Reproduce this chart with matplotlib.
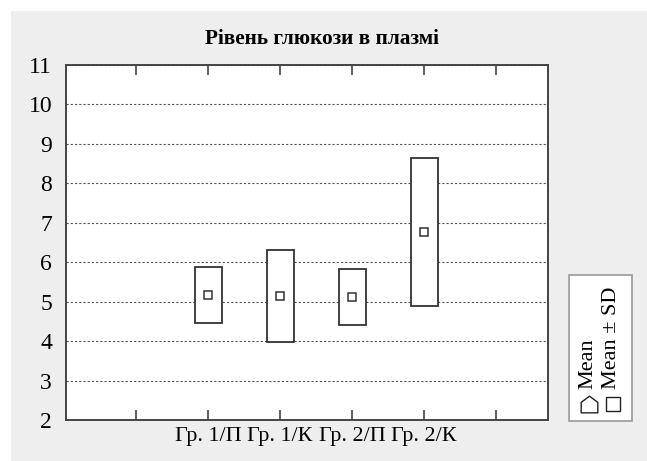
import matplotlib
matplotlib.use('Agg')
import numpy as np
from matplotlib import pyplot as plt
from matplotlib.patches import Rectangle
from matplotlib.path import Path

groups = ['Гр. 1/П', 'Гр. 1/К', 'Гр. 2/П', 'Гр. 2/К']
means = [5.18, 5.14, 5.12, 6.77]
sds = [0.71, 1.16, 0.70, 1.88]
y_ticks = [2, 3, 4, 5, 6, 7, 8, 9, 10, 11]
title = 'Рівень глюкози в плазмі'

plt.rcParams['font.family'] = ['Liberation Serif', 'DejaVu Serif']

W, H = 647, 461
fig = plt.figure(figsize=(W / 100, H / 100), dpi=100)
fig.patch.set_facecolor('white')
fig.patches.append(Rectangle((11 / W, 0), 1 - 11 / W, (H - 11) / H,
                             transform=fig.transFigure, facecolor='#eeeeee',
                             edgecolor='none', zorder=-10))

ax = fig.add_axes([66 / W, (H - 420) / H, (548 - 66) / W, (420 - 65) / H])
ax.set_facecolor('white')

pos = np.arange(1, len(groups) + 1)
box_w = 0.375
for x, m, s in zip(pos, means, sds):
    ax.add_patch(Rectangle((x - box_w / 2, m - s), box_w, 2 * s,
                           facecolor='white', edgecolor='#333333', lw=1.3, zorder=3))
ax.plot(pos, means, linestyle='none', marker='s', markersize=6,
        markerfacecolor='white', markeredgecolor='#333333', markeredgewidth=1.1, zorder=4)

ax.set_xlim(-0.972, 5.72)
ax.set_ylim(2, 11)
ax.set_xticks(range(0, 6))
ax.set_xticklabels([''] + groups + [''])
ax.set_yticks(y_ticks)
ax.tick_params(axis='x', direction='in', length=7, width=1.2, color='#444444',
               top=True, labelsize=15.8, pad=5)
ax.tick_params(axis='y', length=0, labelsize=17, pad=10)
ax.grid(axis='y', color='#555555', linestyle=(0, (2, 1.8)), linewidth=0.8)
ax.set_axisbelow(True)
for sp in ax.spines.values():
    sp.set_color('#444444')
    sp.set_linewidth(1.4)

fig.text(322 / W, 1 - 39 / H, title, ha='center', va='center', fontsize=15.3,
         fontweight='bold')

# legend drawn by hand (rotated)
fig.patches.append(Rectangle((569 / W, 1 - 421 / H), 63 / W, 146 / H,
                             transform=fig.transFigure, facecolor='white',
                             edgecolor='#999999', lw=1.2, zorder=2))
house = Path([(-1, -1), (1, -1), (1, 0.25), (0, 1), (-1, 0.25), (-1, -1)],
             [Path.MOVETO, Path.LINETO, Path.LINETO, Path.LINETO, Path.LINETO, Path.CLOSEPOLY])
fig.lines.append(plt.Line2D([588.5 / W], [1 - 403.5 / H], transform=fig.transFigure,
                            marker=house, markersize=12, markerfacecolor='white',
                            markeredgecolor='#222222', markeredgewidth=1.0, zorder=3))
fig.lines.append(plt.Line2D([612.5 / W], [1 - 404 / H], transform=fig.transFigure,
                            marker='s', markersize=10, markerfacecolor='white',
                            markeredgecolor='#222222', markeredgewidth=1.0, zorder=3))
fig.text(588 / W, 1 - 389 / H, 'Mean', rotation=90, ha='center', va='bottom',
         fontsize=16, zorder=3)
fig.text(612 / W, 1 - 389 / H, 'Mean ± SD', rotation=90, ha='center', va='bottom',
         fontsize=16, zorder=3)

fig.savefig('out.png', dpi=100)
